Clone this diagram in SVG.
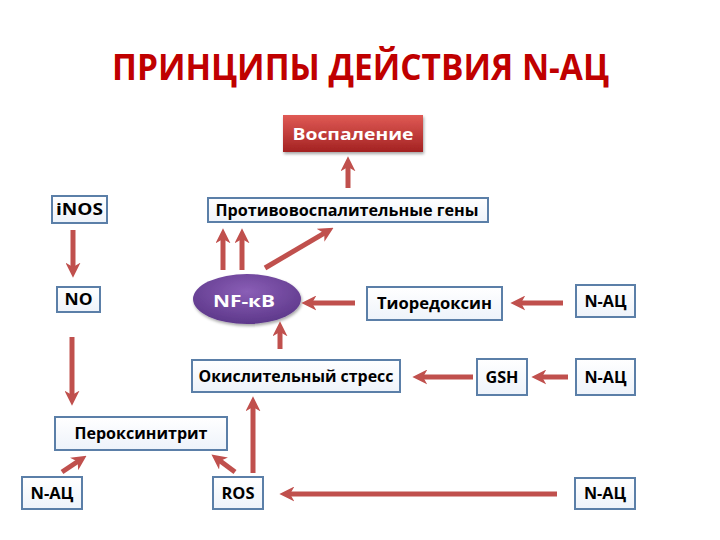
<svg xmlns="http://www.w3.org/2000/svg" width="720" height="540" viewBox="0 0 720 540">
<style>
.box{fill:url(#boxg);stroke:#5B7FA8;stroke-width:2}
.t{font-family:"Open Sans","Noto Sans","DejaVu Sans",sans-serif;font-weight:bold;font-size:16px;fill:#000;text-anchor:middle}
.w{fill:#fff}
.arr{stroke:#C0504D;stroke-width:5;fill:none;marker-end:url(#ah)}
</style>
<defs>
<linearGradient id="boxg" x1="0" y1="0" x2="0" y2="1"><stop offset="0" stop-color="#ffffff"/><stop offset="1" stop-color="#EEF3FA"/></linearGradient>
<linearGradient id="redg" x1="0" y1="0" x2="0" y2="1"><stop offset="0" stop-color="#E05A55"/><stop offset="1" stop-color="#A32222"/></linearGradient>
<radialGradient id="purg" cx="0.5" cy="0.35" r="0.7"><stop offset="0" stop-color="#8A5EB6"/><stop offset="1" stop-color="#5A3587"/></radialGradient>
<filter id="sh" x="-20%" y="-20%" width="140%" height="160%"><feDropShadow dx="1" dy="2" stdDeviation="1.5" flood-color="#000" flood-opacity="0.35"/></filter>
<marker id="ah" viewBox="0 0 14 14" markerWidth="15" markerHeight="15" markerUnits="userSpaceOnUse" refX="5" refY="7" orient="auto"><path d="M0,0 L14,7 L0,14 L4,7 z" fill="#C0504D"/></marker>
</defs>
<text x="112" y="80" font-family="'Open Sans','Noto Sans',sans-serif" font-weight="bold" font-size="36" fill="#C00000" textLength="497" lengthAdjust="spacingAndGlyphs">ПРИНЦИПЫ ДЕЙСТВИЯ N-АЦ</text>
<g id="vospalenie"><rect x="283" y="115" width="140" height="37" fill="url(#redg)" filter="url(#sh)"/><text class="t w" x="353" y="140" font-size="19" textLength="121" lengthAdjust="spacingAndGlyphs">Воспаление</text></g>
<g id="geny"><rect class="box" x="208" y="198" width="280" height="24"/><text class="t" x="347" y="215.5" textLength="263" lengthAdjust="spacingAndGlyphs">Противовоспалительные гены</text></g>
<g id="inos"><rect class="box" x="52" y="196" width="55" height="27"/><text class="t" x="79.5" y="215" textLength="47" lengthAdjust="spacingAndGlyphs">iNOS</text></g>
<g id="no"><rect class="box" x="57" y="287" width="43" height="25"/><text class="t" x="78.5" y="305" textLength="28" lengthAdjust="spacingAndGlyphs">NO</text></g>
<g id="nfkb"><ellipse cx="247" cy="299" rx="54" ry="25" fill="url(#purg)" filter="url(#sh)"/><text class="t w" x="244" y="307" font-size="21" textLength="62" lengthAdjust="spacingAndGlyphs">NF-кВ</text></g>
<g id="tioredoksin"><rect class="box" x="367" y="287" width="135" height="33"/><text class="t" x="434.5" y="309" textLength="115" lengthAdjust="spacingAndGlyphs">Тиоредоксин</text></g>
<g id="nac1"><rect class="box" x="576" y="285" width="59" height="32"/><text class="t" x="605.5" y="306.5" textLength="42" lengthAdjust="spacingAndGlyphs">N-АЦ</text></g>
<g id="stress"><rect class="box" x="192" y="360" width="208" height="32"/><text class="t" x="296" y="381.5" textLength="195" lengthAdjust="spacingAndGlyphs">Окислительный стресс</text></g>
<g id="gsh"><rect class="box" x="477" y="359" width="50" height="36"/><text class="t" x="502" y="382.5" textLength="33" lengthAdjust="spacingAndGlyphs">GSH</text></g>
<g id="nac2"><rect class="box" x="576" y="359" width="59" height="36"/><text class="t" x="605.5" y="382.5" textLength="42" lengthAdjust="spacingAndGlyphs">N-АЦ</text></g>
<g id="peroksinitrit"><rect class="box" x="55" y="417" width="172" height="33"/><text class="t" x="141" y="439" textLength="133" lengthAdjust="spacingAndGlyphs">Пероксинитрит</text></g>
<g id="nac3"><rect class="box" x="22" y="477" width="60" height="32"/><text class="t" x="52" y="498.5" textLength="43" lengthAdjust="spacingAndGlyphs">N-АЦ</text></g>
<g id="ros"><rect class="box" x="213" y="477" width="50" height="32"/><text class="t" x="238" y="498.5" textLength="33" lengthAdjust="spacingAndGlyphs">ROS</text></g>
<g id="nac4"><rect class="box" x="575" y="478" width="60" height="31"/><text class="t" x="605" y="499" textLength="42" lengthAdjust="spacingAndGlyphs">N-АЦ</text></g>
<g id="connectors">
<line class="arr" x1="348" y1="188" x2="348" y2="166"/>
<line class="arr" x1="223" y1="270" x2="223" y2="238"/>
<line class="arr" x1="242" y1="270" x2="242" y2="238"/>
<line class="arr" x1="265" y1="268" x2="325.2" y2="232.6"/>
<line class="arr" x1="73" y1="230" x2="73" y2="268"/>
<line class="arr" x1="72" y1="337" x2="72" y2="396"/>
<line class="arr" x1="355" y1="303" x2="311" y2="303"/>
<line class="arr" x1="280" y1="349" x2="280" y2="331"/>
<line class="arr" x1="473" y1="377" x2="422" y2="377"/>
<line class="arr" x1="563" y1="303" x2="520" y2="303"/>
<line class="arr" x1="568" y1="377" x2="541" y2="377"/>
<line class="arr" x1="253" y1="473" x2="253" y2="406"/>
<line class="arr" x1="62" y1="472" x2="78.5" y2="461"/>
<line class="arr" x1="235" y1="472" x2="219.2" y2="460.3"/>
<line class="arr" x1="557" y1="494" x2="289" y2="494"/>
</g>
</svg>
